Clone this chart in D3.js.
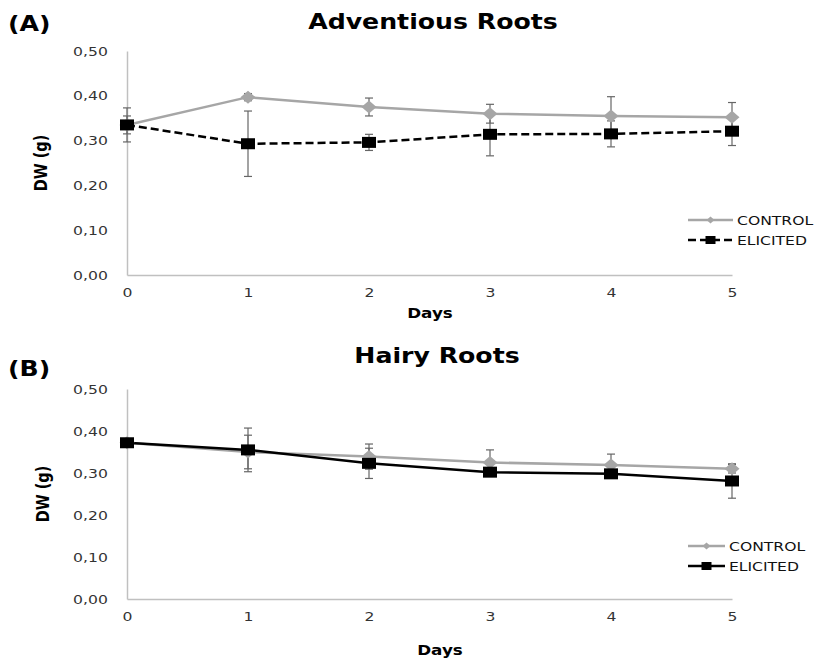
<!DOCTYPE html>
<html>
<head>
<meta charset="utf-8">
<script src="https://cdn.jsdelivr.net/npm/d3@7"></script>
<style>
  body { margin: 0; background: #fff; }
  svg text { font-family: 'DejaVu Sans', Verdana, sans-serif; }
</style>
</head>
<body>
<div id="vis"></div>
<script>
// data
var days = [0, 1, 2, 3, 4, 5];
var yTicks = [0, 0.1, 0.2, 0.3, 0.4, 0.5];
var seriesNames = ['CONTROL', 'ELICITED'];

var advControl = [0.335, 0.397, 0.375, 0.360, 0.355, 0.352];
var advControlErr = [0.038, 0.008, 0.020, 0.021, 0.043, 0.033];
var advElicited = [0.335, 0.293, 0.296, 0.314, 0.315, 0.321];
var advElicitedErr = [0.020, 0.073, 0.018, 0.048, 0.029, 0.032];

var hairyControl = [0.372, 0.350, 0.339, 0.325, 0.319, 0.310];
var hairyControlErr = [0.005, 0.040, 0.030, 0.030, 0.026, 0.010];
var hairyElicited = [0.372, 0.355, 0.323, 0.302, 0.298, 0.281];
var hairyElicitedErr = [0.005, 0.052, 0.036, 0.010, 0.008, 0.041];

var width = 814,
    height = 658,
    sx = 1.2; // the figure is stretched sideways

var svg = d3.select('#vis')
    .append('svg')
    .attr('width', width)
    .attr('height', height);

var fmt = function(d) { return d3.format('.2f')(d).replace('.', ','); };

function label(g, x, y, txt, size, weight, anchor, rot) {
    return g.append('text')
        .attr('transform', 'translate(' + x + ',' + y + ') scale(' + sx + ',1)' + (rot ? ' rotate(' + rot + ')' : ''))
        .attr('font-size', size)
        .attr('font-weight', weight)
        .attr('text-anchor', anchor)
        .attr('fill', '#000')
        .text(txt);
}

function drawPanel(p) {
    var x = d3.scaleLinear().domain([0, 5]).range([127, 732]);
    var y = d3.scaleLinear().domain([0, 0.5]).range([p.bottom, p.top]);
    var g = svg.append('g');

    label(g, 8, p.tagY, p.tag, 21, 'bold', 'start');
    label(g, p.titleX, p.titleY, p.title, 21, 'bold', 'middle');
    label(g, p.dwX, (p.top + p.bottom) / 2, 'DW (g)', 14.5, 'bold', 'middle', -90);
    label(g, p.daysX, p.daysY, 'Days', 14, 'bold', 'middle');

    var yAxis = g.append('g')
        .attr('transform', 'translate(127,0)')
        .call(d3.axisLeft(y).tickValues(yTicks).tickFormat(fmt).tickSize(0).tickPadding(16));
    var xAxis = g.append('g')
        .attr('transform', 'translate(0,' + p.bottom + ')')
        .call(d3.axisBottom(x).tickValues(days).tickFormat(d3.format('d')).tickSize(0).tickPadding(13));

    [yAxis, xAxis].forEach(function(a) {
        a.select('.domain').attr('stroke', '#c0c0c0').attr('stroke-width', 1.5);
        a.selectAll('text')
            .attr('font-size', 13)
            .attr('font-family', "'DejaVu Sans', Verdana, sans-serif")
            .attr('fill', '#333')
            .attr('transform', 'scale(' + sx + ',1)');
    });

    var series = [
        { name: 'CONTROL', vals: p.control, err: p.controlErr, color: '#a6a6a6', dash: null, shape: 'diamond' },
        { name: 'ELICITED', vals: p.elicited, err: p.elicitedErr, color: '#000', dash: p.dash, shape: 'square' }
    ];

    var line = d3.line()
        .x(function(d, i) { return x(days[i]); })
        .y(function(d) { return y(d); });

    series.forEach(function(s) {
        g.append('path')
            .datum(s.vals)
            .attr('fill', 'none')
            .attr('stroke', s.color)
            .attr('stroke-width', 2.5)
            .attr('stroke-dasharray', s.dash)
            .attr('d', line);
    });

    series.forEach(function(s) {
        var eb = g.append('g').attr('stroke', '#666').attr('stroke-width', 1.2);
        s.vals.forEach(function(v, i) {
            var cx = x(days[i]), y1 = y(v + s.err[i]), y2 = y(v - s.err[i]);
            eb.append('line').attr('x1', cx).attr('x2', cx).attr('y1', y1).attr('y2', y2);
            eb.append('line').attr('x1', cx - 4).attr('x2', cx + 4).attr('y1', y1).attr('y2', y1);
            eb.append('line').attr('x1', cx - 4).attr('x2', cx + 4).attr('y1', y2).attr('y2', y2);
        });
    });

    series.forEach(function(s) {
        g.append('g').selectAll('path')
            .data(s.vals)
            .enter().append('path')
            .attr('fill', s.color)
            .attr('transform', function(d, i) { return 'translate(' + x(days[i]) + ',' + y(d) + ')'; })
            .attr('d', s.shape == 'diamond' ? 'M0,-6.5L7.5,0L0,6.5L-7.5,0Z' : 'M-7,-5.5H7V5.5H-7Z');
    });

    // legend
    var legend = g.append('g')
        .selectAll('g')
        .data(series)
        .enter().append('g')
        .attr('transform', function(d, i) { return 'translate(688,' + (p.legendY + i * 20) + ')'; });

    legend.append('line')
        .attr('x1', 0).attr('x2', p.legendW)
        .attr('stroke', function(d) { return d.color; })
        .attr('stroke-width', 2.5)
        .attr('stroke-dasharray', function(d) { return d.dash; });

    legend.append('path')
        .attr('transform', 'translate(' + (p.legendW / 2) + ',0)')
        .attr('fill', function(d) { return d.color; })
        .attr('d', function(d) { return d.shape == 'diamond' ? 'M0,-3.5L4,0L0,3.5L-4,0Z' : 'M-5,-4H5V4H-5Z'; });

    legend.each(function(d) {
        label(d3.select(this), p.legendW + 4, 5, d.name, 13, 'normal', 'start').attr('fill', '#111');
    });
}

drawPanel({
    tag: '(A)', tagY: 31, title: 'Adventious Roots', titleX: 433, titleY: 29,
    top: 51, bottom: 275, dwX: 47, daysX: 430, daysY: 318,
    control: advControl, controlErr: advControlErr,
    elicited: advElicited, elicitedErr: advElicitedErr,
    dash: '8,4', legendY: 220, legendW: 45
});

drawPanel({
    tag: '(B)', tagY: 376, title: 'Hairy Roots', titleX: 437, titleY: 363,
    top: 389, bottom: 599, dwX: 49, daysX: 440, daysY: 655,
    control: hairyControl, controlErr: hairyControlErr,
    elicited: hairyElicited, elicitedErr: hairyElicitedErr,
    dash: null, legendY: 546, legendW: 37
});
</script>
</body>
</html>
